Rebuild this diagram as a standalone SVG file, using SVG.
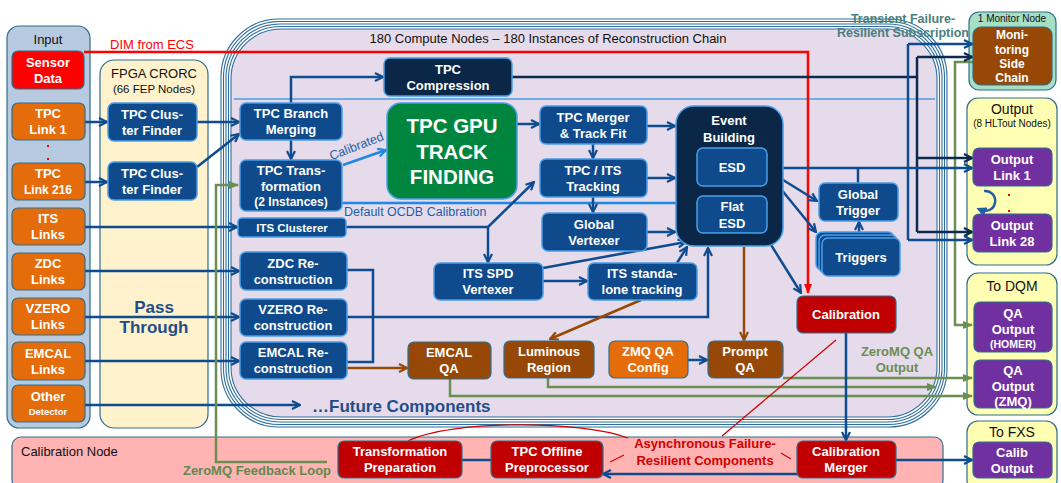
<svg xmlns="http://www.w3.org/2000/svg" width="1061" height="483" viewBox="0 0 1061 483">
<defs>
<style>
text{font-family:"Liberation Sans",Arial,sans-serif}
.w{fill:#fff;font-weight:bold;font-size:13px;text-anchor:middle}
.b{fill:#0e4a8c;stroke:#4a9ee8;stroke-width:1.5}
.n{fill:#0b2748;stroke:#4a9ee8;stroke-width:1.5}
.o{fill:#e46c0a;stroke:#2e6e8e;stroke-width:1.2}
.br{fill:#974806;stroke:#2e6e8e;stroke-width:1.2}
.r{fill:#c00000;stroke:#2e6e8e;stroke-width:1.2}
.p{fill:#7030a0;stroke:#2e6e8e;stroke-width:1.2}
.pn{stroke:#2e6e8e;stroke-width:1.2}
.st{fill:none;stroke:#2e6e9e;stroke-width:1.1}
.k{fill:#111;font-size:13px;text-anchor:middle}
.cb{fill:none;stroke:#0f4c8f;stroke-width:2.5}
.cl{fill:none;stroke:#1e88e5;stroke-width:2.5}
.cn{fill:none;stroke:#0c2a4f;stroke-width:2.5}
.cbr{fill:none;stroke:#974806;stroke-width:2.5}
.cg{fill:none;stroke:#6a8f50;stroke-width:2.5}
.cr{fill:none;stroke:#ff0000;stroke-width:2.5}
.ct{fill:none;stroke:#d00000;stroke-width:1.2}
</style>
<marker id="aB" viewBox="0 0 10 10" refX="9" refY="5" markerWidth="10" markerHeight="10" markerUnits="userSpaceOnUse" orient="auto"><path d="M1,1 L9,5 L1,9" fill="none" stroke="#0f4c8f" stroke-width="2.2"/></marker>
<marker id="aL" viewBox="0 0 10 10" refX="9" refY="5" markerWidth="10" markerHeight="10" markerUnits="userSpaceOnUse" orient="auto"><path d="M1,1 L9,5 L1,9" fill="none" stroke="#1e88e5" stroke-width="2.2"/></marker>
<marker id="aN" viewBox="0 0 10 10" refX="9" refY="5" markerWidth="10" markerHeight="10" markerUnits="userSpaceOnUse" orient="auto"><path d="M1,1 L9,5 L1,9" fill="none" stroke="#0c2a4f" stroke-width="2.2"/></marker>
<marker id="aBr" viewBox="0 0 10 10" refX="9" refY="5" markerWidth="10" markerHeight="10" markerUnits="userSpaceOnUse" orient="auto"><path d="M1,1 L9,5 L1,9" fill="none" stroke="#974806" stroke-width="2.2"/></marker>
<marker id="aG" viewBox="0 0 10 10" refX="9" refY="5" markerWidth="10" markerHeight="10" markerUnits="userSpaceOnUse" orient="auto"><path d="M0,1 L10,5 L0,9 Z" fill="#6a8f50"/></marker>
<marker id="aR" viewBox="0 0 10 10" refX="9" refY="5" markerWidth="10" markerHeight="10" markerUnits="userSpaceOnUse" orient="auto"><path d="M0,1 L10,5 L0,9 Z" fill="#ff0000"/></marker>
<marker id="aC" viewBox="0 0 10 10" refX="5" refY="5" markerWidth="10" markerHeight="10" markerUnits="userSpaceOnUse" orient="auto"><path d="M0,0 L10,5 L0,10 Z" fill="#1f5fa8"/></marker>
</defs>

<!-- panels -->
<g id="input-panel">
<rect x="7" y="26" width="83" height="402" rx="12" fill="#b7cadf" class="pn"/>
<text x="48" y="44" class="k">Input</text>
</g>
<g id="fpga-panel">
<rect x="100" y="60" width="108" height="368" rx="14" fill="#fff2cc" class="pn"/>
<text x="154" y="78" class="k">FPGA CRORC</text>
<text x="154" y="93" class="k" style="font-size:11.5px">(66 FEP Nodes)</text>
<text x="154" y="313" fill="#1f4e8a" font-weight="bold" font-size="17" text-anchor="middle">Pass</text>
<text x="154" y="333" fill="#1f4e8a" font-weight="bold" font-size="17" text-anchor="middle">Through</text>
</g>
<g id="compute-panel">
<rect x="221" y="19" width="726" height="408" rx="58" class="st"/>
<rect x="223.5" y="21.5" width="721" height="403" rx="56" class="st"/>
<rect x="226" y="24" width="716" height="398" rx="54" class="st"/>
<rect x="228.5" y="26.5" width="711" height="393" rx="52" class="st"/>
<rect x="231" y="29" width="706" height="388" rx="50" fill="#e5dbeb" stroke="#2e6e9e" stroke-width="1.1"/>
<line x1="234" y1="99" x2="935" y2="99" stroke="#4a9de0" stroke-width="1.5"/>
<text x="548" y="43" class="k">180 Compute Nodes – 180 Instances of Reconstruction Chain</text>
</g>
<g id="calib-panel">
<rect x="12" y="437" width="931" height="52" rx="9" fill="#ffb3b3" class="pn"/>
<text x="21" y="456" fill="#111" font-size="13">Calibration Node</text>
</g>
<g id="monitor-panel">
<rect x="969" y="12" width="87" height="78" rx="10" fill="#a6dfc4" class="pn"/>
<text x="1012" y="22" class="k" style="font-size:10px">1 Monitor Node</text>
</g>
<g id="output-panel">
<rect x="967" y="98" width="90" height="167" rx="11" fill="#ffffb3" class="pn"/>
<text x="1012" y="114" class="k" style="font-size:14px">Output</text>
<text x="1012" y="127" class="k" style="font-size:10px">(8 HLTout Nodes)</text>
</g>
<g id="dqm-panel">
<rect x="967" y="273" width="90" height="142" rx="11" fill="#ffffb3" class="pn"/>
<text x="1012" y="291" class="k" style="font-size:14px">To DQM</text>
</g>
<g id="fxs-panel">
<rect x="967" y="421" width="90" height="70" rx="11" fill="#ffffb3" class="pn"/>
<text x="1012" y="437" class="k" style="font-size:14px">To FXS</text>
</g>

<!-- connectors -->
<g id="connectors">
<polyline class="cr" points="84,52 808,52 808,293" marker-end="url(#aR)"/>
<text x="152" y="49" fill="#ff0000" font-size="13" text-anchor="middle">DIM from ECS</text>

<line class="cb" x1="85" y1="122" x2="107" y2="122" marker-end="url(#aB)"/>
<line class="cb" x1="85" y1="182" x2="107" y2="182" marker-end="url(#aB)"/>
<line class="cb" x1="197" y1="122" x2="239" y2="122" marker-end="url(#aB)"/>
<line class="cb" x1="197" y1="167" x2="239" y2="134" marker-end="url(#aB)"/>
<line class="cb" x1="85" y1="227" x2="237" y2="227" marker-end="url(#aB)"/>
<line class="cb" x1="85" y1="271" x2="239" y2="271" marker-end="url(#aB)"/>
<line class="cb" x1="85" y1="317" x2="239" y2="317" marker-end="url(#aB)"/>
<line class="cb" x1="85" y1="361" x2="239" y2="361" marker-end="url(#aB)"/>
<line class="cb" x1="85" y1="405" x2="300" y2="405" marker-end="url(#aB)"/>

<polyline class="cg" points="327,462 216,462 216,185 238,185" marker-end="url(#aG)"/>
<text x="257" y="475" fill="#5e8a4e" font-weight="bold" font-size="13" text-anchor="middle">ZeroMQ Feedback Loop</text>

<polyline class="cb" points="291,103 291,77 383,77" marker-end="url(#aB)"/>
<line class="cb" x1="291" y1="140" x2="291" y2="159" marker-end="url(#aB)"/>
<line class="cl" x1="343" y1="165" x2="386" y2="150" marker-end="url(#aL)"/>
<text x="358" y="150" fill="#1f5fa8" font-size="12.5" text-anchor="middle" transform="rotate(-21 358 150)">Calibrated</text>
<line class="cl" x1="342" y1="203" x2="696" y2="203" marker-end="url(#aL)"/>
<text x="344" y="216" fill="#1f5fa8" font-size="12.5">Default OCDB Calibration</text>

<line class="cb" x1="517" y1="124" x2="539" y2="124" marker-end="url(#aB)"/>
<line class="cb" x1="593" y1="144" x2="593" y2="158" marker-end="url(#aB)"/>
<line class="cb" x1="647" y1="126" x2="675" y2="126" marker-end="url(#aB)"/>
<line class="cb" x1="647" y1="178" x2="675" y2="178" marker-end="url(#aB)"/>
<line class="cb" x1="593" y1="197" x2="593" y2="212" marker-end="url(#aB)"/>
<line class="cb" x1="647" y1="232" x2="675" y2="232" marker-end="url(#aB)"/>
<line class="cb" x1="346" y1="227" x2="488" y2="227"/>
<line class="cb" x1="488" y1="227" x2="488" y2="262" marker-end="url(#aB)"/>
<line class="cb" x1="488" y1="227" x2="534" y2="182" marker-end="url(#aB)"/>
<line class="cb" x1="543" y1="268" x2="686" y2="242" marker-end="url(#aB)"/>
<line class="cb" x1="543" y1="281" x2="587" y2="281" marker-end="url(#aB)"/>
<line class="cb" x1="677" y1="263" x2="687" y2="247" marker-end="url(#aB)"/>
<polyline class="cb" points="347,317 708,317 708,248" marker-end="url(#aB)"/>
<polyline class="cb" points="347,270 373,270 373,362 347,362"/>

<line class="cbr" x1="347" y1="368" x2="407" y2="368" marker-end="url(#aBr)"/>
<line class="cbr" x1="641" y1="300" x2="550" y2="339" marker-end="url(#aBr)"/>
<line class="cbr" x1="744" y1="247" x2="744" y2="340" marker-end="url(#aBr)"/>
<line class="cb" x1="688" y1="360" x2="707" y2="360" marker-end="url(#aB)"/>

<polyline class="cg" points="783,378 972,378" marker-end="url(#aG)"/>
<polyline class="cg" points="548,378 548,387 936,387" marker-end="url(#aG)"/>
<polyline class="cg" points="450,379 450,396 972,396" marker-end="url(#aG)"/>
<text x="897" y="356" fill="#6a8f50" font-weight="bold" font-size="13" text-anchor="middle">ZeroMQ QA</text>
<text x="897" y="372" fill="#6a8f50" font-weight="bold" font-size="13" text-anchor="middle">Output</text>
<polyline class="cg" points="974,62 955,62 955,325 972,325" marker-end="url(#aG)"/>

<line class="cn" x1="512" y1="77" x2="917" y2="77"/>
<line class="cn" x1="917" y1="57" x2="917" y2="232"/>
<line class="cn" x1="917" y1="57" x2="972" y2="57" marker-end="url(#aN)"/>
<line class="cn" x1="917" y1="158" x2="972" y2="158" marker-end="url(#aN)"/>
<line class="cn" x1="917" y1="232" x2="972" y2="232" marker-end="url(#aN)"/>
<line class="cb" x1="767" y1="168" x2="972" y2="168" marker-end="url(#aB)"/>
<line class="cb" x1="908" y1="44" x2="908" y2="240"/>
<line class="cb" x1="908" y1="44" x2="972" y2="44" marker-end="url(#aB)"/>
<line class="cb" x1="908" y1="240" x2="972" y2="240" marker-end="url(#aB)"/>
<line class="cb" x1="858" y1="183" x2="858" y2="168"/>
<line class="cb" x1="767" y1="170" x2="817" y2="201" marker-end="url(#aB)"/>
<line class="cb" x1="767" y1="172" x2="816" y2="232" marker-end="url(#aB)"/>
<line class="cb" x1="763" y1="232" x2="801" y2="293" marker-end="url(#aB)"/>
<line class="cb" x1="859" y1="238" x2="859" y2="222" marker-end="url(#aB)"/>

<line class="cb" x1="846" y1="333" x2="846" y2="440" marker-end="url(#aB)"/>
<line class="cb" x1="896" y1="460" x2="972" y2="460" marker-end="url(#aB)"/>
<line class="cb" x1="797" y1="474" x2="603" y2="474" marker-end="url(#aB)"/>
<line class="cb" x1="491" y1="460" x2="448" y2="460" marker-end="url(#aB)"/>

<line class="ct" x1="722" y1="436" x2="836" y2="340"/>
<path class="ct" d="M628,438 C580,420 450,420 408,441"/>
<line class="ct" x1="610" y1="462" x2="624" y2="455"/>
<line class="ct" x1="781" y1="453" x2="791" y2="459"/>
<text x="705" y="448" fill="#d00000" font-weight="bold" font-size="13" text-anchor="middle">Asynchronous Failure-</text>
<text x="705" y="465" fill="#d00000" font-weight="bold" font-size="13" text-anchor="middle">Resilient Components</text>

<path d="M984,191 A10,10 0 1 1 981,210" fill="none" stroke="#1f5fa8" stroke-width="2.5" marker-end="url(#aC)"/>
</g>

<text x="903" y="23" fill="#4a7f7d" font-weight="bold" font-size="12.5" text-anchor="middle">Transient Failure-</text>
<text x="903" y="37" fill="#4a7f7d" font-weight="bold" font-size="12.5" text-anchor="middle">Resilient Subscription</text>

<!-- nodes -->
<g id="sensor-data"><rect x="12" y="51" width="72" height="38" rx="6" fill="#ff0000" class="pn"/><text class="w" x="48" y="67">Sensor</text><text class="w" x="48" y="83">Data</text></g>
<g id="tpc-link-1"><rect x="12" y="103" width="73" height="37" rx="6" class="o"/><text class="w" x="48" y="118">TPC</text><text class="w" x="48" y="134">Link 1</text></g>
<rect x="47" y="145" width="2" height="2" fill="#ff0000"/>
<rect x="47" y="158" width="2" height="2" fill="#ff0000"/>
<g id="tpc-link-216"><rect x="12" y="163" width="73" height="37" rx="6" class="o"/><text class="w" x="48" y="178">TPC</text><text class="w" x="48" y="194" style="font-size:12px">Link 216</text></g>
<g id="its-links"><rect x="12" y="208" width="73" height="37" rx="6" class="o"/><text class="w" x="48" y="223">ITS</text><text class="w" x="48" y="239">Links</text></g>
<g id="zdc-links"><rect x="12" y="253" width="73" height="37" rx="6" class="o"/><text class="w" x="48" y="268">ZDC</text><text class="w" x="48" y="284">Links</text></g>
<g id="vzero-links"><rect x="12" y="298" width="73" height="37" rx="6" class="o"/><text class="w" x="48" y="313">VZERO</text><text class="w" x="48" y="329">Links</text></g>
<g id="emcal-links"><rect x="12" y="342" width="73" height="38" rx="6" class="o"/><text class="w" x="48" y="358">EMCAL</text><text class="w" x="48" y="374">Links</text></g>
<g id="other-detector"><rect x="12" y="385" width="73" height="37" rx="6" class="o"/><text class="w" x="48" y="401">Other</text><text class="w" x="48" y="415" style="font-size:9.5px">Detector</text></g>

<g id="cf-1"><rect x="108" y="103" width="89" height="38" rx="6" class="b"/><text class="w" x="152" y="119">TPC Clus-</text><text class="w" x="152" y="135">ter Finder</text></g>
<g id="cf-2"><rect x="108" y="162" width="89" height="38" rx="6" class="b"/><text class="w" x="152" y="178">TPC Clus-</text><text class="w" x="152" y="194">ter Finder</text></g>

<g id="tpc-compression"><rect x="384" y="58" width="128" height="38" rx="6" class="n"/><text class="w" x="448" y="74">TPC</text><text class="w" x="448" y="90">Compression</text></g>
<g id="tpc-branch-merging"><rect x="240" y="103" width="102" height="37" rx="6" class="b"/><text class="w" x="291" y="118">TPC Branch</text><text class="w" x="291" y="134">Merging</text></g>
<g id="tpc-transformation"><rect x="240" y="160" width="102" height="51" rx="6" class="b"/><text class="w" x="291" y="175">TPC Trans-</text><text class="w" x="291" y="191">formation</text><text class="w" x="291" y="206" style="font-size:12px">(2 Instances)</text></g>
<g id="tpc-gpu"><rect x="387" y="103" width="130" height="96" rx="14" fill="#00853e" stroke="#4a9ee8" stroke-width="1.5"/><text class="w" x="452" y="133" style="font-size:20.5px">TPC GPU</text><text class="w" x="452" y="159" style="font-size:20.5px">TRACK</text><text class="w" x="452" y="184" style="font-size:20.5px">FINDING</text></g>
<g id="its-clusterer"><rect x="238" y="218" width="108" height="19" rx="4" class="b"/><text class="w" x="292" y="232" style="font-size:11.5px">ITS Clusterer</text></g>
<g id="zdc-reco"><rect x="240" y="252" width="107" height="38" rx="6" class="b"/><text class="w" x="293" y="268">ZDC Re-</text><text class="w" x="293" y="284">construction</text></g>
<g id="vzero-reco"><rect x="240" y="299" width="107" height="37" rx="6" class="b"/><text class="w" x="293" y="314">VZERO Re-</text><text class="w" x="293" y="330">construction</text></g>
<g id="emcal-reco"><rect x="240" y="342" width="107" height="37" rx="6" class="b"/><text class="w" x="293" y="357">EMCAL Re-</text><text class="w" x="293" y="373">construction</text></g>

<g id="tpc-merger"><rect x="540" y="106" width="107" height="38" rx="6" class="b"/><text class="w" x="593" y="122">TPC Merger</text><text class="w" x="593" y="138">&amp; Track Fit</text></g>
<g id="tpc-its-tracking"><rect x="540" y="159" width="107" height="38" rx="6" class="b"/><text class="w" x="593" y="175">TPC / ITS</text><text class="w" x="593" y="191">Tracking</text></g>
<g id="global-vertexer"><rect x="542" y="213" width="105" height="38" rx="6" class="b"/><text class="w" x="594" y="229">Global</text><text class="w" x="594" y="245">Vertexer</text></g>
<g id="its-spd-vertexer"><rect x="434" y="263" width="109" height="37" rx="6" class="b"/><text class="w" x="488" y="278">ITS SPD</text><text class="w" x="488" y="294">Vertexer</text></g>
<g id="its-standalone"><rect x="588" y="263" width="109" height="37" rx="6" class="b"/><text class="w" x="642" y="278">ITS standa-</text><text class="w" x="642" y="294">lone tracking</text></g>

<g id="event-building"><rect x="676" y="106" width="107" height="140" rx="18" class="n"/><text class="w" x="729" y="125">Event</text><text class="w" x="729" y="142">Building</text>
<rect x="697" y="148" width="70" height="38" rx="6" class="b"/><text class="w" x="732" y="172">ESD</text>
<rect x="697" y="196" width="70" height="37" rx="6" class="b"/><text class="w" x="732" y="211">Flat</text><text class="w" x="732" y="228">ESD</text></g>

<g id="global-trigger"><rect x="819" y="183" width="79" height="38" rx="6" class="b"/><text class="w" x="858" y="199">Global</text><text class="w" x="858" y="215">Trigger</text></g>
<g id="triggers"><rect x="816" y="232" width="78" height="38" rx="6" class="b"/><rect x="819" y="235" width="78" height="38" rx="6" class="b"/><rect x="822" y="238" width="78" height="38" rx="6" class="b"/><text class="w" x="861" y="262">Triggers</text></g>
<g id="calibration"><rect x="797" y="296" width="99" height="37" rx="6" class="r"/><text class="w" x="846" y="319">Calibration</text></g>

<g id="emcal-qa"><rect x="408" y="342" width="83" height="37" rx="6" class="br"/><text class="w" x="449" y="357">EMCAL</text><text class="w" x="449" y="373">QA</text></g>
<g id="luminous-region"><rect x="504" y="341" width="90" height="37" rx="6" class="br"/><text class="w" x="549" y="356">Luminous</text><text class="w" x="549" y="372">Region</text></g>
<g id="zmq-qa-config"><rect x="609" y="341" width="79" height="37" rx="6" class="o"/><text class="w" x="648" y="356">ZMQ QA</text><text class="w" x="648" y="372">Config</text></g>
<g id="prompt-qa"><rect x="708" y="341" width="75" height="37" rx="6" class="br"/><text class="w" x="745" y="356">Prompt</text><text class="w" x="745" y="372">QA</text></g>

<text x="312" y="412" fill="#1f4e8a" font-weight="bold" font-size="17">…Future Components</text>

<g id="transformation-prep"><rect x="338" y="441" width="124" height="37" rx="6" class="r"/><text class="w" x="400" y="456">Transformation</text><text class="w" x="400" y="472">Preparation</text></g>
<g id="tpc-offline"><rect x="491" y="441" width="112" height="37" rx="6" class="r"/><text class="w" x="547" y="456">TPC Offline</text><text class="w" x="547" y="472">Preprocessor</text></g>
<g id="calibration-merger"><rect x="797" y="441" width="99" height="37" rx="6" class="r"/><text class="w" x="846" y="456">Calibration</text><text class="w" x="846" y="472">Merger</text></g>

<g id="monitoring-side-chain"><rect x="973" y="27" width="79" height="58" rx="8" class="br"/><text class="w" x="1012" y="39" style="font-size:12px">Moni-</text><text class="w" x="1012" y="54" style="font-size:12px">toring</text><text class="w" x="1012" y="68" style="font-size:12px">Side</text><text class="w" x="1012" y="82" style="font-size:12px">Chain</text></g>
<g id="output-link-1"><rect x="973" y="148" width="79" height="38" rx="6" class="p"/><text class="w" x="1012" y="164">Output</text><text class="w" x="1012" y="180">Link 1</text></g>
<rect x="1008" y="194" width="2" height="2" fill="#ff0000"/>
<rect x="1008" y="210" width="2" height="2" fill="#ff0000"/>
<g id="output-link-28"><rect x="973" y="214" width="79" height="38" rx="6" class="p"/><text class="w" x="1012" y="230">Output</text><text class="w" x="1012" y="246">Link 28</text></g>
<g id="qa-homer"><rect x="974" y="302" width="78" height="50" rx="6" class="p"/><text class="w" x="1013" y="318">QA</text><text class="w" x="1013" y="334">Output</text><text class="w" x="1013" y="348" style="font-size:10.5px">(HOMER)</text></g>
<g id="qa-zmq"><rect x="974" y="360" width="78" height="48" rx="6" class="p"/><text class="w" x="1013" y="375">QA</text><text class="w" x="1013" y="391">Output</text><text class="w" x="1013" y="406">(ZMQ)</text></g>
<g id="calib-output"><rect x="973" y="442" width="79" height="36" rx="6" class="p"/><text class="w" x="1012" y="457">Calib</text><text class="w" x="1012" y="473">Output</text></g>
</svg>
